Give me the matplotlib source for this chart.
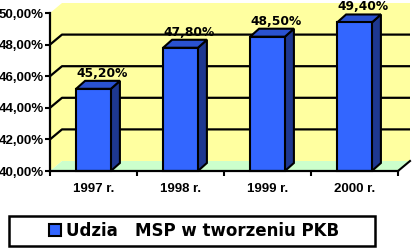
import matplotlib
matplotlib.use("Agg")
import matplotlib.pyplot as plt
from matplotlib.patches import Polygon, Rectangle, Patch

categories = ["1997 r.", "1998 r.", "1999 r.", "2000 r."]
values = [45.2, 47.8, 48.5, 49.4]
value_labels = ["45,20%", "47,80%", "48,50%", "49,40%"]
yticks = [40, 42, 44, 46, 48, 50]
ytick_labels = ["40,00%", "42,00%", "44,00%", "46,00%", "48,00%", "50,00%"]
series_name = "Udzia   MSP w tworzeniu PKB"

W, H = 412, 248
fig = plt.figure(figsize=(W / 100, H / 100), dpi=100)
fig.patch.set_facecolor("white")

ax_l, ax_r, ax_t, ax_b = 50, 398, 13, 171
ax = fig.add_axes([ax_l / W, 1 - ax_b / H, (ax_r - ax_l) / W, (ax_b - ax_t) / H])
ax.set_xlim(0, len(categories))
ax.set_ylim(yticks[0], yticks[-1])
ax.patch.set_visible(False)

# pixel -> data conversion
sx = len(categories) / (ax_r - ax_l)
sy = (yticks[-1] - yticks[0]) / (ax_b - ax_t)
wdx, wdy = 12 * sx, 10 * sy   # wall depth
bdx, bdy = 9 * sx, 8 * sy     # bar depth

y0, y1 = yticks[0], yticks[-1]
x1 = len(categories)

wall_col = "#ffffa0"
floor_col = "#ccffcc"
wall = Polygon([(0, y0), (0, y1), (wdx, y1 + wdy), (x1 + wdx, y1 + wdy),
                (x1 + wdx, y0 + wdy), (wdx, y0 + wdy)],
               closed=True, facecolor=wall_col, edgecolor="none", zorder=0, clip_on=False)
ax.add_patch(wall)
floor = Polygon([(0, y0), (wdx, y0 + wdy), (x1 + wdx, y0 + wdy), (x1, y0)],
                closed=True, facecolor=floor_col, edgecolor="none", zorder=0.5, clip_on=False)
ax.add_patch(floor)
ax.plot([x1, x1 + wdx], [y0, y0 + wdy], color="black", lw=1.5, clip_on=False, zorder=1)

for v in yticks[1:-1]:
    ax.plot([0, wdx, x1 + wdx], [v, v + wdy, v + wdy], color="black", lw=1.6,
            clip_on=False, zorder=1, solid_capstyle="butt")

front_c = "#3366ff"
side_c = "#1e3890"
top_c = "#2a52d0"
bw = 0.40
xs = [i + 0.5 for i in range(len(categories))]
ax.bar(xs, [v - y0 for v in values], bottom=y0, width=bw, color=front_c,
       edgecolor="black", linewidth=1.5, zorder=3, clip_on=False)
for x, v, lab in zip(xs, values, value_labels):
    xa, xb = x - bw / 2, x + bw / 2
    side = Polygon([(xb, y0), (xb + bdx, y0 + bdy), (xb + bdx, v + bdy), (xb, v)],
                   closed=True, facecolor=side_c, edgecolor="black", lw=1.5, zorder=2.9,
                   clip_on=False, joinstyle="miter")
    top = Polygon([(xa, v), (xa + bdx, v + bdy), (xb + bdx, v + bdy), (xb, v)],
                  closed=True, facecolor=top_c, edgecolor="black", lw=1.5, zorder=2.9,
                  clip_on=False, joinstyle="miter")
    ax.add_patch(side)
    ax.add_patch(top)
    ax.annotate(lab, (x + bdx, v + bdy), xytext=(0, 3), textcoords="offset points",
                ha="center", va="baseline", fontsize=8.8, fontweight="bold",
                family="DejaVu Sans", color="black", zorder=5, annotation_clip=False)

for s in ["top", "right"]:
    ax.spines[s].set_visible(False)
for s in ["left", "bottom"]:
    ax.spines[s].set_linewidth(1.6)
    ax.spines[s].set_zorder(4)

ax.set_yticks(yticks)
ax.set_yticklabels(ytick_labels, fontsize=9.5, fontweight="bold", family="Liberation Sans")
ax.tick_params(axis="y", direction="out", length=3.5, width=1.5, pad=1)

ax.set_xticks(xs)
ax.set_xticklabels(categories, fontsize=9.5, fontweight="bold", family="Liberation Sans")
ax.set_xticks(range(len(categories) + 1), minor=True)
ax.tick_params(axis="x", which="major", length=0, pad=9)
ax.tick_params(axis="x", which="minor", direction="out", length=3.5, width=1.5)

# legend
fig.patches.append(Rectangle((9 / W, 1 - 246 / H), 366 / W, 30 / H, transform=fig.transFigure,
                             facecolor="white", edgecolor="black", lw=1.8))
leg = fig.legend([Patch(facecolor=front_c, edgecolor="black", lw=1.5)], [series_name],
                 loc="center", bbox_to_anchor=(194 / W, 1 - 231 / H), frameon=False,
                 prop={"family": "DejaVu Sans", "weight": "bold", "size": 12},
                 handlelength=0.72, handleheight=0.72, handletextpad=0.3, borderpad=0)

fig.savefig("out.png", dpi=100, facecolor="white")
